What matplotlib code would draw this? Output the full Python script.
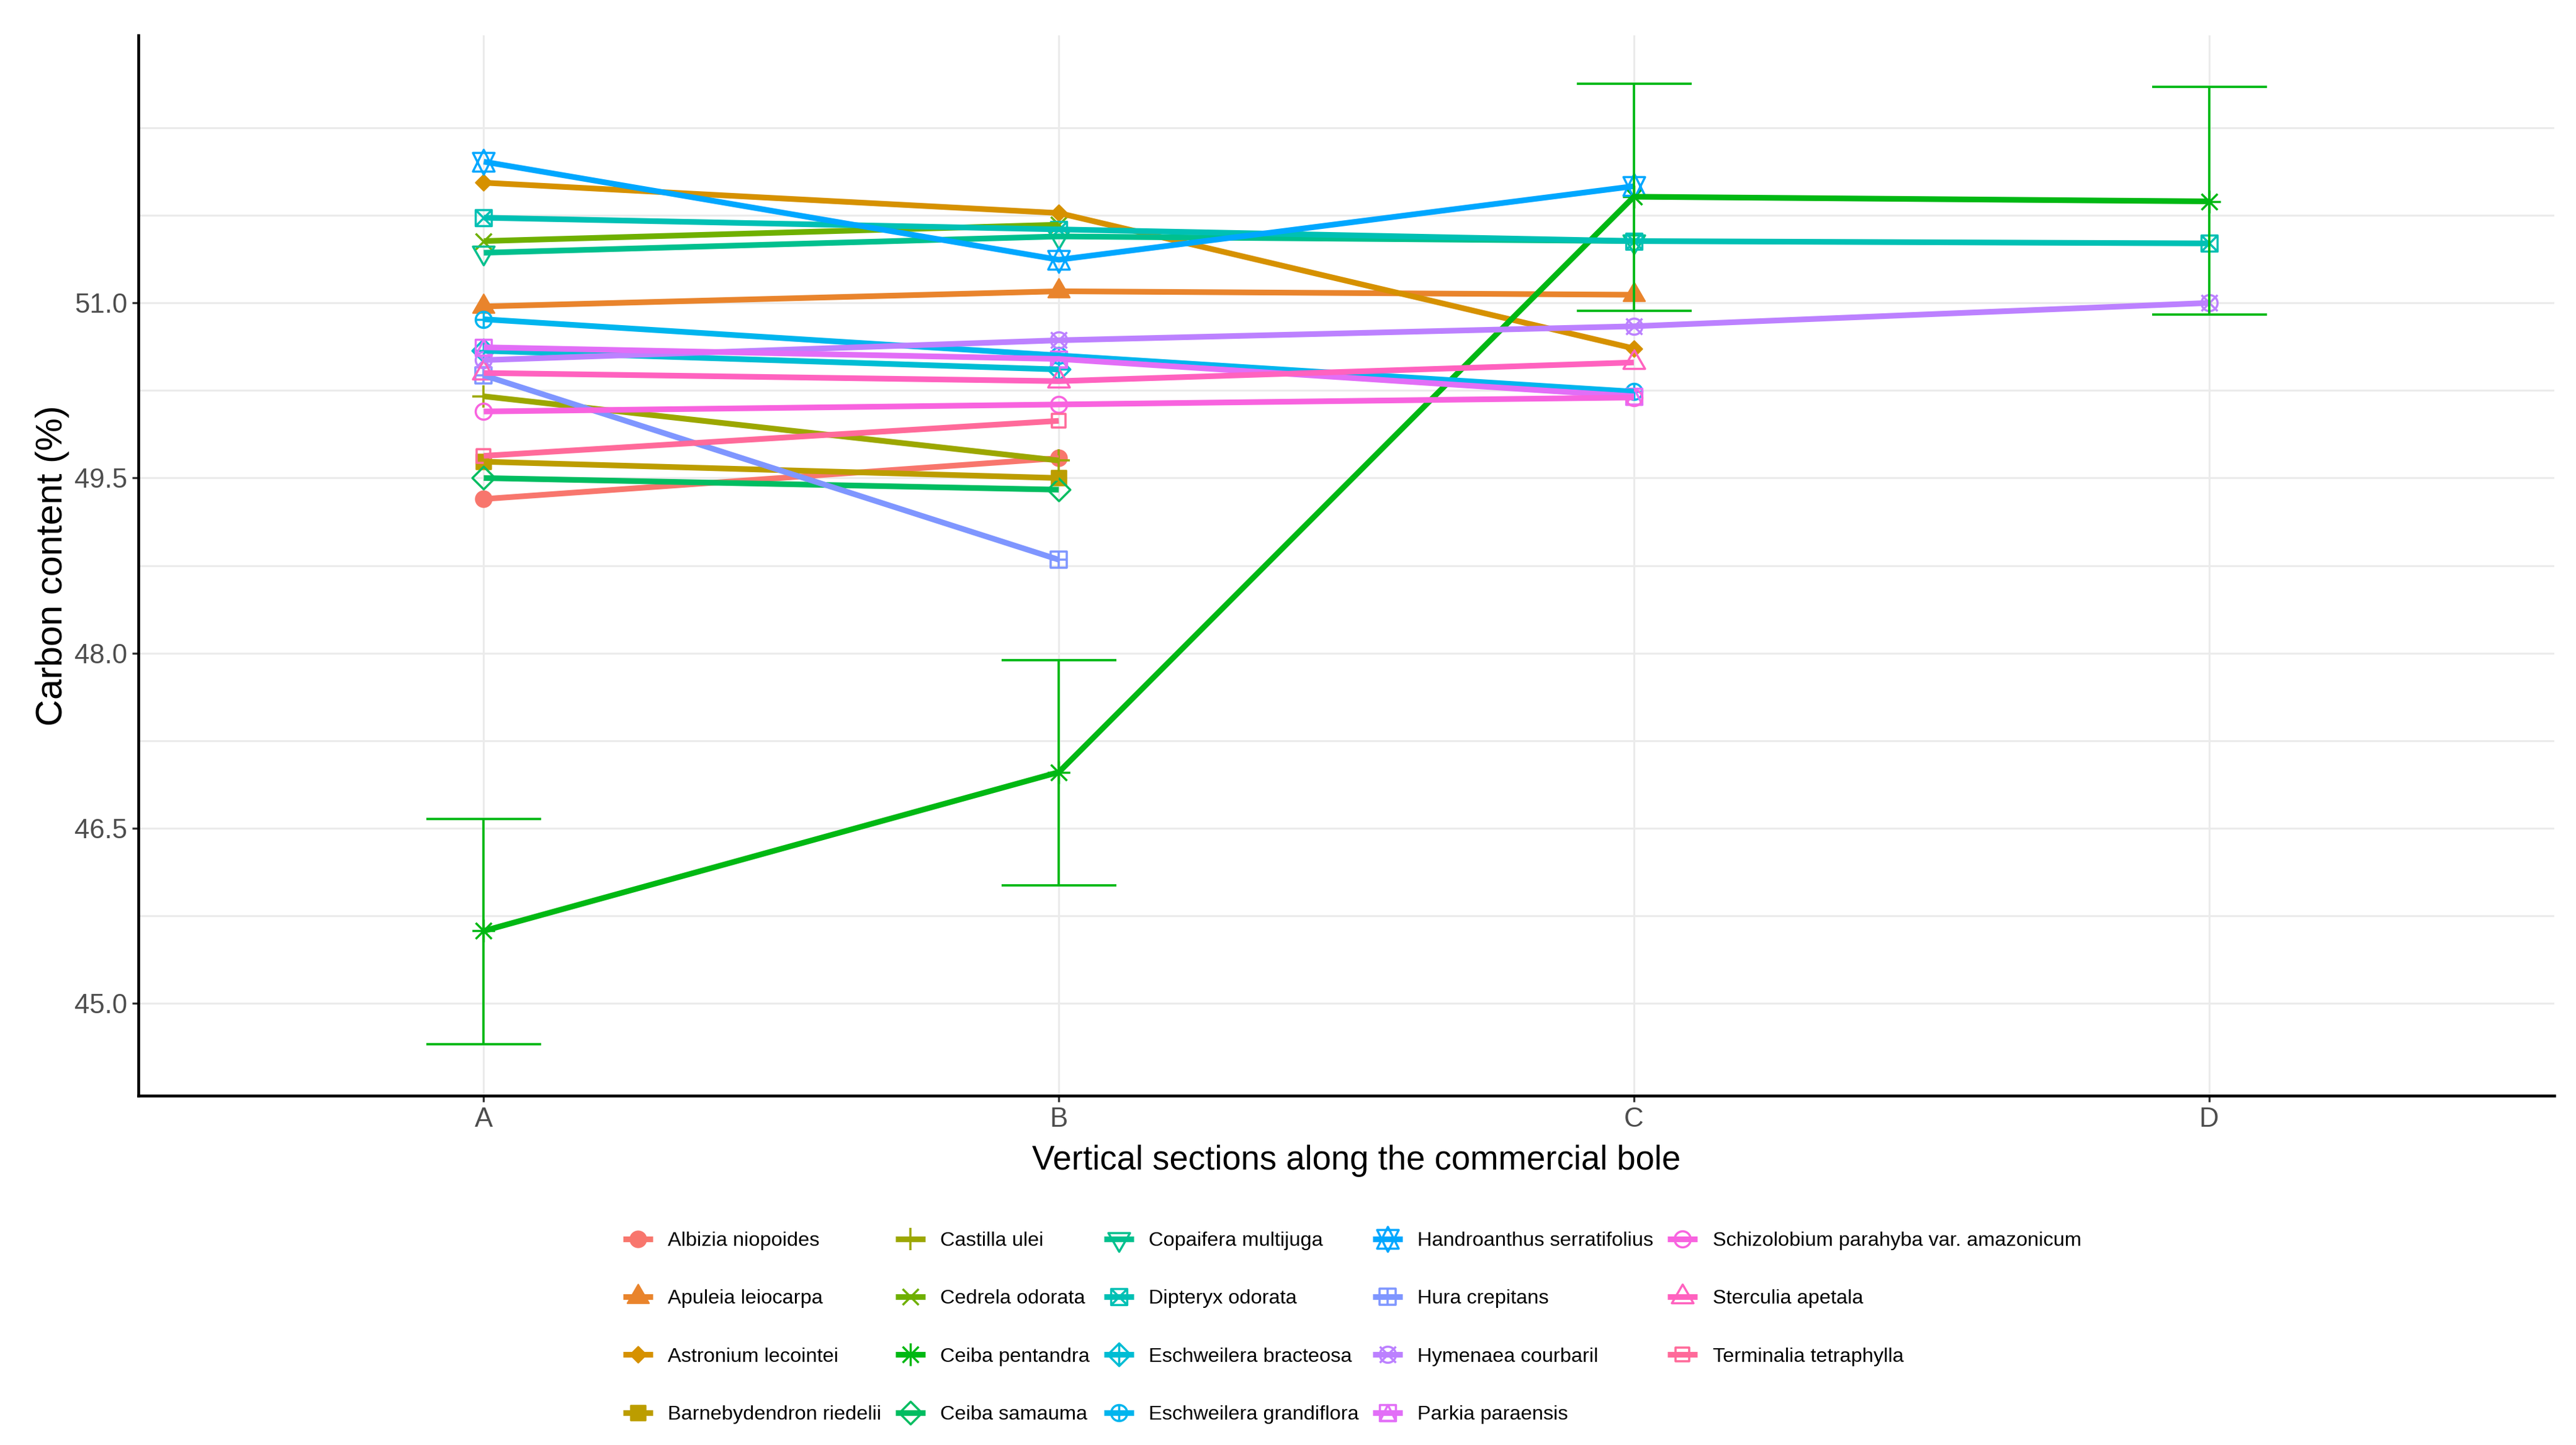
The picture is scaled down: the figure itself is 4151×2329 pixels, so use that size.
import numpy as np
import matplotlib
matplotlib.use("Agg")
import matplotlib.pyplot as plt
from matplotlib.path import Path
from matplotlib.lines import Line2D
from matplotlib.legend_handler import HandlerTuple

# ---------------- data ----------------
species = [
    "Albizia niopoides", "Apuleia leiocarpa", "Astronium lecointei",
    "Barnebydendron riedelii", "Castilla ulei", "Cedrela odorata",
    "Ceiba pentandra", "Ceiba samauma", "Copaifera multijuga",
    "Dipteryx odorata", "Eschweilera bracteosa", "Eschweilera grandiflora",
    "Handroanthus serratifolius", "Hura crepitans", "Hymenaea courbaril",
    "Parkia paraensis", "Schizolobium parahyba var. amazonicum",
    "Sterculia apetala", "Terminalia tetraphylla",
]
sections = ["A", "B", "C", "D"]
nan = np.nan
carbon_A = [49.32, 50.97, 52.03, 49.64, 50.20, 51.53, 45.62, 49.50, 51.43,
            51.73, 50.59, 50.86, 52.21, 50.38, 50.51, 50.62, 50.07, 50.40, 49.69]
carbon_B = [49.67, 51.10, 51.77, 49.50, 49.65, 51.67, 46.98, 49.40, 51.57,
            51.63, 50.43, 50.55, 51.37, 48.80, 50.68, 50.52, 50.13, 50.33, 49.99]
carbon_C = [nan, 51.07, 50.61, nan, nan, nan, 51.91, nan, 51.53,
            51.53, nan, 50.24, 52.00, nan, 50.80, 50.20, 50.19, 50.49, nan]
carbon_D = [nan, nan, nan, nan, nan, nan, 51.87, nan, nan,
            51.51, nan, nan, nan, nan, 51.00, nan, nan, nan, nan]

err_species = "Ceiba pentandra"
err_low = [44.65, 46.01, 50.93, 50.90]
err_high = [46.58, 47.94, 52.88, 52.85]

r_shapes = [16, 17, 18, 15, 3, 4, 8, 5, 6, 7, 9, 10, 11, 12, 13, 14, 1, 2, 0]

y_labelled = [45.0, 46.5, 48.0, 49.5, 51.0]
y_minor_grid = [45.75, 47.25, 48.75, 50.25, 51.75, 52.5]


# ---------------- ggplot hue palette ----------------
def hcl_hex(h, c=100.0, l=65.0):
    hr = np.deg2rad(h)
    U, V = c * np.cos(hr), c * np.sin(hr)
    Y = 100.0 * ((l + 16.0) / 116.0) ** 3
    XN, YN, ZN = 95.047, 100.0, 108.883
    t = XN + 15 * YN + 3 * ZN
    un, vn = 4 * XN / t, 9 * YN / t
    u = U / (13 * l) + un
    v = V / (13 * l) + vn
    X = 9.0 * Y * u / (4 * v)
    Z = -X / 3 - 5 * Y + 3 * Y / v
    rgb = np.array([
        (3.240479 * X - 1.537150 * Y - 0.498535 * Z) / 100,
        (-0.969256 * X + 1.875992 * Y + 0.041556 * Z) / 100,
        (0.055648 * X - 0.204043 * Y + 1.057311 * Z) / 100,
    ])
    rgb = np.where(rgb <= 0.0031308, 12.92 * rgb, 1.055 * np.abs(rgb) ** (1 / 2.4) - 0.055)
    rgb = np.clip(rgb, 0, 1)
    return "#%02X%02X%02X" % tuple(int(round(x * 255)) for x in rgb)


n = len(species)
hues = np.linspace(15, 375 - 360 / n, n) % 360
colors = [hcl_hex(h) for h in hues]


# ---------------- R pch shapes as paths ----------------
def seg(x0, y0, x1, y1):
    return Path([(x0, y0), (x1, y1)], [Path.MOVETO, Path.LINETO])


def poly(pts):
    pts = list(pts) + [pts[0]]
    return Path(pts, [Path.MOVETO] + [Path.LINETO] * (len(pts) - 2) + [Path.CLOSEPOLY])


def circ(r=1.0):
    c = Path.unit_circle()
    return Path(c.vertices * r, c.codes)


TR0, TR1, TR2 = 1.5551, 1.3468, 0.7776
up_tri = poly([(0, TR0), (TR1, -TR2), (-TR1, -TR2)])
dn_tri = poly([(0, -TR0), (TR1, TR2), (-TR1, TR2)])
S2 = np.sqrt(2)


def sq(a):
    return poly([(-a, -a), (a, -a), (a, a), (-a, a)])


def dia(a):
    return poly([(0, a), (a, 0), (0, -a), (-a, 0)])


def plus(a):
    return Path.make_compound_path(seg(-a, 0, a, 0), seg(0, -a, 0, a))


def cross(a):
    return Path.make_compound_path(seg(-a, -a, a, a), seg(-a, a, a, -a))


yc11 = 0.5 * (TR2 + TR0)
shape_paths = {
    0: (sq(0.886), False),
    1: (circ(1.0), False),
    2: (up_tri, False),
    3: (plus(S2), False),
    4: (cross(1.0), False),
    5: (dia(S2), False),
    6: (dn_tri, False),
    7: (Path.make_compound_path(sq(1.0), cross(1.0)), False),
    8: (Path.make_compound_path(plus(S2), cross(1.0)), False),
    9: (Path.make_compound_path(dia(S2), plus(S2)), False),
    10: (Path.make_compound_path(circ(1.0), plus(1.0)), False),
    11: (Path.make_compound_path(poly([(0, TR0), (TR1, -yc11), (-TR1, -yc11)]),
                                 poly([(0, -TR0), (TR1, yc11), (-TR1, yc11)])), False),
    12: (Path.make_compound_path(sq(1.0), plus(1.0)), False),
    13: (Path.make_compound_path(circ(1.0), cross(1.0)), False),
    14: (Path.make_compound_path(sq(1.0), poly([(0, 1), (1, -1), (-1, -1)])), False),
    15: (sq(0.95), True),
    16: (circ(1.0), True),
    17: (up_tri, True),
    18: (dia(1.0), True),
}
K_PT = 3.1  # points per R symbol unit


def marker_kw(code, color):
    p, filled = shape_paths[code]
    ext = np.max(np.abs(p.vertices))
    return dict(marker=p, markersize=2 * K_PT * ext,
                markerfacecolor=color if filled else "none",
                markeredgecolor=color,
                markeredgewidth=0.6 if filled else 0.85)


# ---------------- figure ----------------
plt.rcParams["font.family"] = ["Liberation Sans", "DejaVu Sans"]
W, H = 4151, 2329
DPI = 300
fig = plt.figure(figsize=(W / DPI, H / DPI), dpi=DPI)
ax = fig.add_axes([0.05384, 0.24186, 0.93761, 0.73349])

xpos = np.arange(len(sections))
values = np.array([carbon_A, carbon_B, carbon_C, carbon_D], dtype=float).T

LW = 2.2
handles = []
for i, sp in enumerate(species):
    col = colors[i]
    mk = marker_kw(r_shapes[i], col)
    ax.plot(xpos, values[i], linestyle="none", zorder=2, **mk)
    ax.plot(xpos, values[i], color=col, lw=LW, solid_capstyle="butt", zorder=2.5)
    h_m = Line2D([], [], linestyle="none", **mk)
    h_l = Line2D([], [], color=col, lw=LW, solid_capstyle="butt")
    handles.append((h_m, h_l))

ei = species.index(err_species)
ev = values[ei]
ax.errorbar(xpos, ev, yerr=[ev - np.array(err_low), np.array(err_high) - ev],
            fmt="none", ecolor=colors[ei], elinewidth=0.9, capsize=22.2,
            capthick=0.9, zorder=3)

ax.set_xlim(-0.6, 3.6)
ax.set_ylim(44.21, 53.29)
ax.set_xticks(xpos)
ax.set_xticklabels(sections)
ax.set_yticks(y_labelled)
ax.set_yticklabels([f"{v:.1f}" for v in y_labelled])
ax.set_yticks(y_minor_grid, minor=True)
ax.set_axisbelow(True)
ax.grid(True, which="both", axis="y", color="#EBEBEB", lw=0.75)
ax.grid(True, which="major", axis="x", color="#EBEBEB", lw=0.75)
ax.tick_params(axis="y", which="minor", length=0)
ax.tick_params(axis="both", which="major", length=2.4, width=0.8,
               color="#333333", labelcolor="#4D4D4D", labelsize=10.5)
ax.tick_params(axis="x", pad=2.0)
ax.tick_params(axis="y", pad=2.0)
for s in ["top", "right"]:
    ax.spines[s].set_visible(False)
for s in ["left", "bottom"]:
    ax.spines[s].set_linewidth(1.1)
    ax.spines[s].set_color("black")

fig.text(1663 / W, 1 - 1885 / H, "Vertical sections along the commercial bole",
         ha="left", va="baseline", fontsize=13.1, color="black")
fig.text(0.0204, 0.60863, "Carbon content (%)", rotation=90,
         ha="center", va="center", fontsize=14.3, color="black")

leg = fig.legend(handles, species, loc="upper left",
                 bbox_to_anchor=(1004 / W, 1 - 1985 / H), ncol=5, frameon=False,
                 fontsize=7.8, handlelength=1.47, handletextpad=0.75,
                 columnspacing=0.7, labelspacing=1.95, borderaxespad=0,
                 borderpad=0, handler_map={tuple: HandlerTuple(ndivide=1, pad=0)})

fig.savefig("out.png", dpi=DPI)
